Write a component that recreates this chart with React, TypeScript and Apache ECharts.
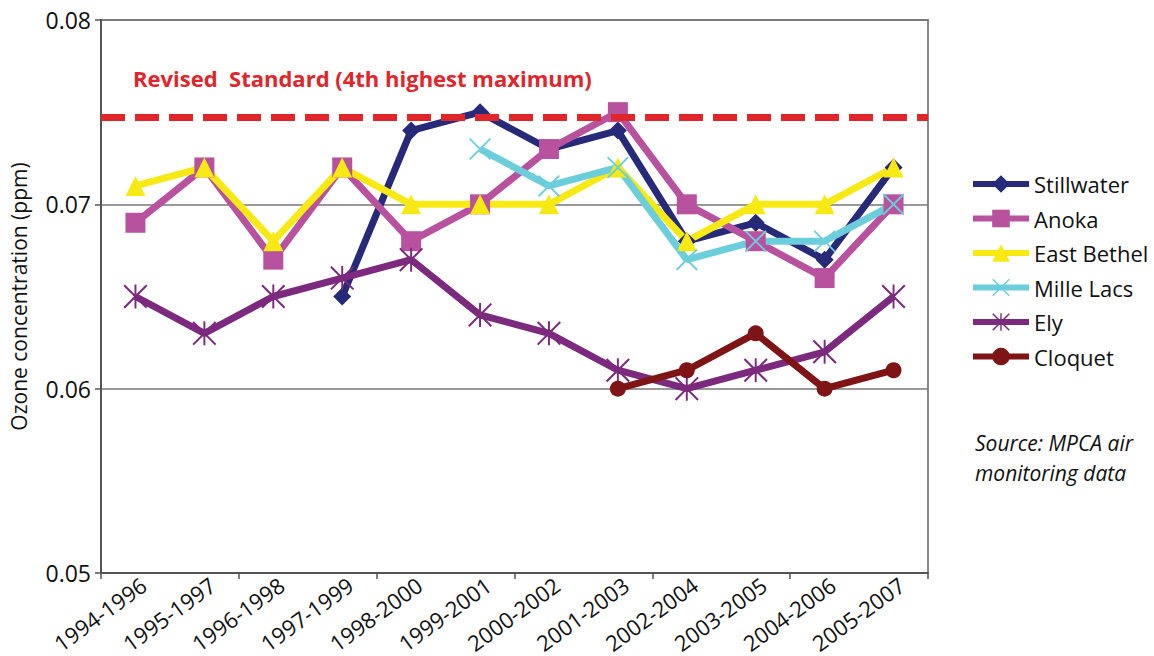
import React, { useEffect, useRef } from "react";
import * as echarts from "echarts";

const categories = [
  "1994-1996", "1995-1997", "1996-1998", "1997-1999", "1998-2000", "1999-2001",
  "2000-2002", "2001-2003", "2002-2004", "2003-2005", "2004-2006", "2005-2007",
];
const stillwater = [null, null, null, 0.065, 0.074, 0.075, 0.073, 0.074, 0.068, 0.069, 0.067, 0.072];
const anoka = [0.069, 0.072, 0.067, 0.072, 0.068, 0.070, 0.073, 0.075, 0.070, 0.068, 0.066, 0.070];
const eastBethel = [0.071, 0.072, 0.068, 0.072, 0.070, 0.070, 0.070, 0.072, 0.068, 0.070, 0.070, 0.072];
const milleLacs = [null, null, null, null, null, 0.073, 0.071, 0.072, 0.067, 0.068, 0.068, 0.070];
const ely = [0.065, 0.063, 0.065, 0.066, 0.067, 0.064, 0.063, 0.061, 0.060, 0.061, 0.062, 0.065];
const cloquet = [null, null, null, null, null, null, null, 0.060, 0.061, 0.063, 0.060, 0.061];
const standardValue = 0.0747;
const yTicks = { min: 0.05, max: 0.08, interval: 0.01 };

const FONT = "'Open Sans', 'Noto Sans', sans-serif";

const X_PATH = "path://M0,1.2 L1.2,0 L20,18.8 L18.8,20 Z M18.8,0 L20,1.2 L1.2,20 L0,18.8 Z";
const STAR_PATH =
  "path://M0,1.2 L1.2,0 L20,18.8 L18.8,20 Z M18.8,0 L20,1.2 L1.2,20 L0,18.8 Z M9.2,0 L10.8,0 L10.8,20 L9.2,20 Z";

export default function App() {
  const ref = useRef<HTMLDivElement>(null);
  useEffect(() => {
    const chart = echarts.init(ref.current!, null, { renderer: "svg" });
    const mk = (name: string, data: any[], color: string, symbol: string, size: number) => ({
      name,
      type: "line",
      data,
      symbol,
      symbolSize: size,
      showAllSymbol: true,
      itemStyle: { color },
      lineStyle: { color, width: 7 },
      emphasis: { disabled: true },
    });
    const series: any[] = [
      {
        ...mk("Stillwater", stillwater, "#262a78", "diamond", 18),
        markLine: {
          silent: true,
          symbol: "none",
          precision: 4,
          label: { show: false },
          lineStyle: { color: "#e0252b", width: 7, type: [24, 10], opacity: 1 },
          data: [{ yAxis: standardValue }],
        },
      },
      mk("Anoka", anoka, "#b8529f", "rect", 20),
      mk("East Bethel", eastBethel, "#f7ea14", "triangle", 20),
      mk("Mille Lacs", milleLacs, "#6ccedb", X_PATH, 22),
      mk("Ely", ely, "#7b2a7d", STAR_PATH, 24),
      mk("Cloquet", cloquet, "#7f1416", "circle", 16),
    ];
    const gridBase = { top: 20, bottom: 656 - 573 };
    chart.setOption({
      animation: false,
      textStyle: { fontFamily: FONT },
      grid: [
        {
          ...gridBase,
          left: 101,
          right: 1154 - 928,
          show: true,
          borderColor: "#888888",
          borderWidth: 2,
        },
        { ...gridBase, left: 109, right: 1154 - 936, show: false },
      ],
      xAxis: [
        {
          type: "category",
          data: categories,
          boundaryGap: true,
          axisLine: { lineStyle: { color: "#555555", width: 2 } },
          axisTick: { show: true, length: 6, lineStyle: { color: "#555555", width: 1.5 } },
          axisLabel: { show: false },
          splitLine: { show: false },
        },
        {
          type: "category",
          gridIndex: 1,
          data: categories,
          boundaryGap: true,
          axisLine: { show: false },
          axisTick: { show: false },
          axisLabel: {
            rotate: 36,
            fontSize: 22,
            color: "#111",
            margin: 12,
            interval: 0,
            fontFamily: FONT,
          },
          splitLine: { show: false },
        },
      ],
      yAxis: [
        {
          type: "value",
          min: yTicks.min,
          max: yTicks.max,
          interval: yTicks.interval,
          name: "Ozone concentration (ppm)",
          nameLocation: "middle",
          nameGap: 72,
          nameTextStyle: { fontSize: 21, color: "#111", fontFamily: FONT },
          axisLine: { show: true, lineStyle: { color: "#555555", width: 2 } },
          axisTick: { show: true, length: 6, lineStyle: { color: "#555555", width: 1.5 } },
          axisLabel: {
            fontSize: 23,
            color: "#111",
            margin: 10,
            fontFamily: FONT,
            formatter: (v: number) => v.toFixed(2),
          },
          splitLine: { show: true, lineStyle: { color: "#777777", width: 1.5 } },
        },
        {
          type: "value",
          gridIndex: 1,
          min: yTicks.min,
          max: yTicks.max,
          interval: yTicks.interval,
          show: false,
        },
      ],
      legend: {
        orient: "vertical",
        left: 965,
        top: 168,
        itemWidth: 56,
        itemHeight: 22,
        itemGap: 12.5,
        lineStyle: { width: 6 },
        textStyle: { fontSize: 22, color: "#111", fontFamily: FONT, lineHeight: 22 },
        data: ["Stillwater", "Anoka", "East Bethel", "Mille Lacs", "Ely", "Cloquet"],
      },
      graphic: [
        {
          type: "text",
          left: 133,
          top: 67,
          style: {
            text: "Revised  Standard (4th highest maximum)",
            fill: "#e0252b",
            font: `bold 22px ${FONT}`,
          },
        },
        {
          type: "text",
          left: 975,
          top: 428,
          style: {
            text: "Source: MPCA air\nmonitoring data",
            fill: "#111",
            font: `italic 21px ${FONT}`,
            lineHeight: 30,
          },
        },
      ],
      series,
    });
    return () => chart.dispose();
  }, []);
  return <div ref={ref} style={{ width: 1154, height: 656, position: "absolute", left: 0, top: 0 }} />;
}
